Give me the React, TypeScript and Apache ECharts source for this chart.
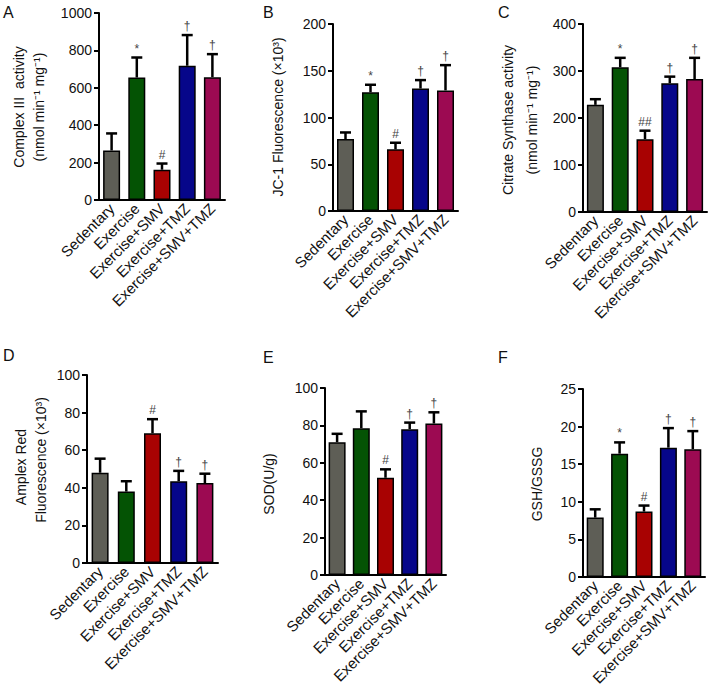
import React, { useEffect, useRef } from "react";
import * as echarts from "echarts";

const categories = ["Sedentary", "Exercise", "Exercise+SMV", "Exercise+TMZ", "Exercise+SMV+TMZ"];
const barColors = ["#5e5e56", "#045304", "#a80202", "#06068a", "#9c0a52"];

const complexIIIMean = [265, 655, 162, 718, 657];
const complexIIIUpper = [356, 762, 195, 882, 780];
const complexIIIMarks = ["", "*", "#", "†", "†"];

const jc1Mean = [77, 127, 66, 131, 129];
const jc1Upper = [84, 135, 73, 140, 156];
const jc1Marks = ["", "*", "#", "†", "†"];

const csMean = [228, 308, 155, 274, 283];
const csUpper = [240, 328, 173, 288, 328];
const csMarks = ["", "*", "##", "†", "†"];

const amplexMean = [48, 38, 69, 43.5, 42.5];
const amplexUpper = [55.5, 43.5, 76.5, 49, 47.5];
const amplexMarks = ["", "", "#", "†", "†"];

const sodMean = [71, 78.5, 52, 78, 81];
const sodUpper = [75.5, 87.5, 56.5, 81.5, 87];
const sodMarks = ["", "", "#", "†", "†"];

const gshMean = [7.9, 16.4, 8.7, 17.2, 17.0];
const gshUpper = [9.0, 17.9, 9.5, 19.8, 19.4];
const gshMarks = ["", "*", "#", "†", "†"];

const yMax = [1000, 200, 400, 100, 100, 25];
const yStep = [200, 50, 100, 20, 20, 5];

const FONT = "'Liberation Sans', Arial, Helvetica, sans-serif";

const grids = [
  { left: 99, top: 13, width: 126, height: 187 },
  { left: 333, top: 24, width: 125, height: 187 },
  { left: 583, top: 24, width: 124, height: 188 },
  { left: 87, top: 375, width: 131, height: 188 },
  { left: 325, top: 388, width: 121, height: 187 },
  { left: 583, top: 389, width: 122, height: 188 },
];

const panels = [
  { mean: complexIIIMean, upper: complexIIIUpper, marks: complexIIIMarks },
  { mean: jc1Mean, upper: jc1Upper, marks: jc1Marks },
  { mean: csMean, upper: csUpper, marks: csMarks },
  { mean: amplexMean, upper: amplexUpper, marks: amplexMarks },
  { mean: sodMean, upper: sodUpper, marks: sodMarks },
  { mean: gshMean, upper: gshUpper, marks: gshMarks },
];

export default function App() {
  const ref = useRef<HTMLDivElement>(null);
  useEffect(() => {
    if (!ref.current) return;
    const chart = echarts.init(ref.current, null, { renderer: "svg" });
    const xAxis: any[] = [];
    const yAxis: any[] = [];
    const series: any[] = [];
    panels.forEach((p, i) => {
      xAxis.push({
        type: "category",
        gridIndex: i,
        data: categories,
        axisLine: { lineStyle: { color: "#000", width: 2 } },
        axisTick: { alignWithLabel: true, length: 5, lineStyle: { color: "#000", width: 2 } },
        axisLabel: { rotate: 45, margin: 6, color: "#111", fontSize: 15, fontFamily: FONT, interval: 0 },
      });
      yAxis.push({
        type: "value",
        gridIndex: i,
        min: 0,
        max: yMax[i],
        interval: yStep[i],
        axisLine: { show: true, lineStyle: { color: "#000", width: 2 } },
        axisTick: { show: true, length: 5, lineStyle: { color: "#000", width: 2 } },
        axisLabel: { margin: 7, color: "#111", fontSize: 14, fontFamily: FONT, formatter: (v: number) => String(v) },
        splitLine: { show: false },
      });
      series.push({
        type: "bar",
        xAxisIndex: i,
        yAxisIndex: i,
        barWidth: 17,
        data: p.mean.map((v, k) => ({
          value: v,
          itemStyle: { color: barColors[k], borderColor: "#000", borderWidth: 1.5 },
        })),
        z: 2,
      });
      series.push({
        type: "custom",
        xAxisIndex: i,
        yAxisIndex: i,
        z: 3,
        itemStyle: { color: "#444" },
        data: p.mean.map((v, k) => [k, v, p.upper[k]]),
        renderItem: (params: any, api: any) => {
          const idx = api.value(0);
          const base = api.coord([idx, api.value(1)]);
          const top = api.coord([idx, api.value(2)]);
          const half = 5.5;
          const mark = p.marks[params.dataIndex];
          const children: any[] = [
            { type: "line", shape: { x1: top[0], y1: base[1], x2: top[0], y2: top[1] }, style: { stroke: "#000", lineWidth: 2.5 } },
            { type: "line", shape: { x1: top[0] - half, y1: top[1], x2: top[0] + half, y2: top[1] }, style: { stroke: "#000", lineWidth: 2.5 } },
          ];
          if (mark) {
            children.push({
              type: "text",
              x: top[0],
              y: top[1] - 3,
              style: { text: mark, textAlign: "center", textVerticalAlign: "bottom", fill: "#444", font: `12px ${FONT}` },
            });
          }
          return { type: "group", children };
        },
      });
    });

    const titleStyle = (text: string) => ({ text, textAlign: "center", textVerticalAlign: "middle", fill: "#111", font: `14px ${FONT}` });
    const letter = (text: string, x: number, y: number) => ({
      type: "text", x, y, style: { text, textAlign: "left", textVerticalAlign: "top", fill: "#111", font: `16px ${FONT}` },
    });
    const ytitle = (text: string, x: number, y: number) => ({ type: "text", x, y, rotation: Math.PI / 2, style: titleStyle(text) });

    chart.setOption({
      animation: false,
      grid: grids.map((g) => ({ ...g, containLabel: false })),
      xAxis,
      yAxis,
      series,
      graphic: [
        letter("A", 3, 4),
        letter("B", 263, 4),
        letter("C", 498, 4),
        letter("D", 3, 347),
        letter("E", 263, 349),
        letter("F", 498, 349),
        ytitle("Complex III  activity", 19, 107),
        ytitle("(nmol min⁻¹ mg⁻¹)", 39, 107),
        ytitle("JC-1 Fluorescence (×10³)", 278, 117),
        ytitle("Citrate Synthase activity", 508, 120),
        ytitle("(nmol min⁻¹ mg⁻¹)", 532, 120),
        ytitle("Amplex Red", 21, 467),
        ytitle("Fluorescence (×10³)", 41, 460),
        ytitle("SOD(U/g)", 269, 484),
        ytitle("GSH/GSSG", 537, 484),
      ],
    });
    return () => chart.dispose();
  }, []);
  return <div ref={ref} style={{ position: "absolute", left: 0, top: 0, width: 709, height: 694 }} />;
}
